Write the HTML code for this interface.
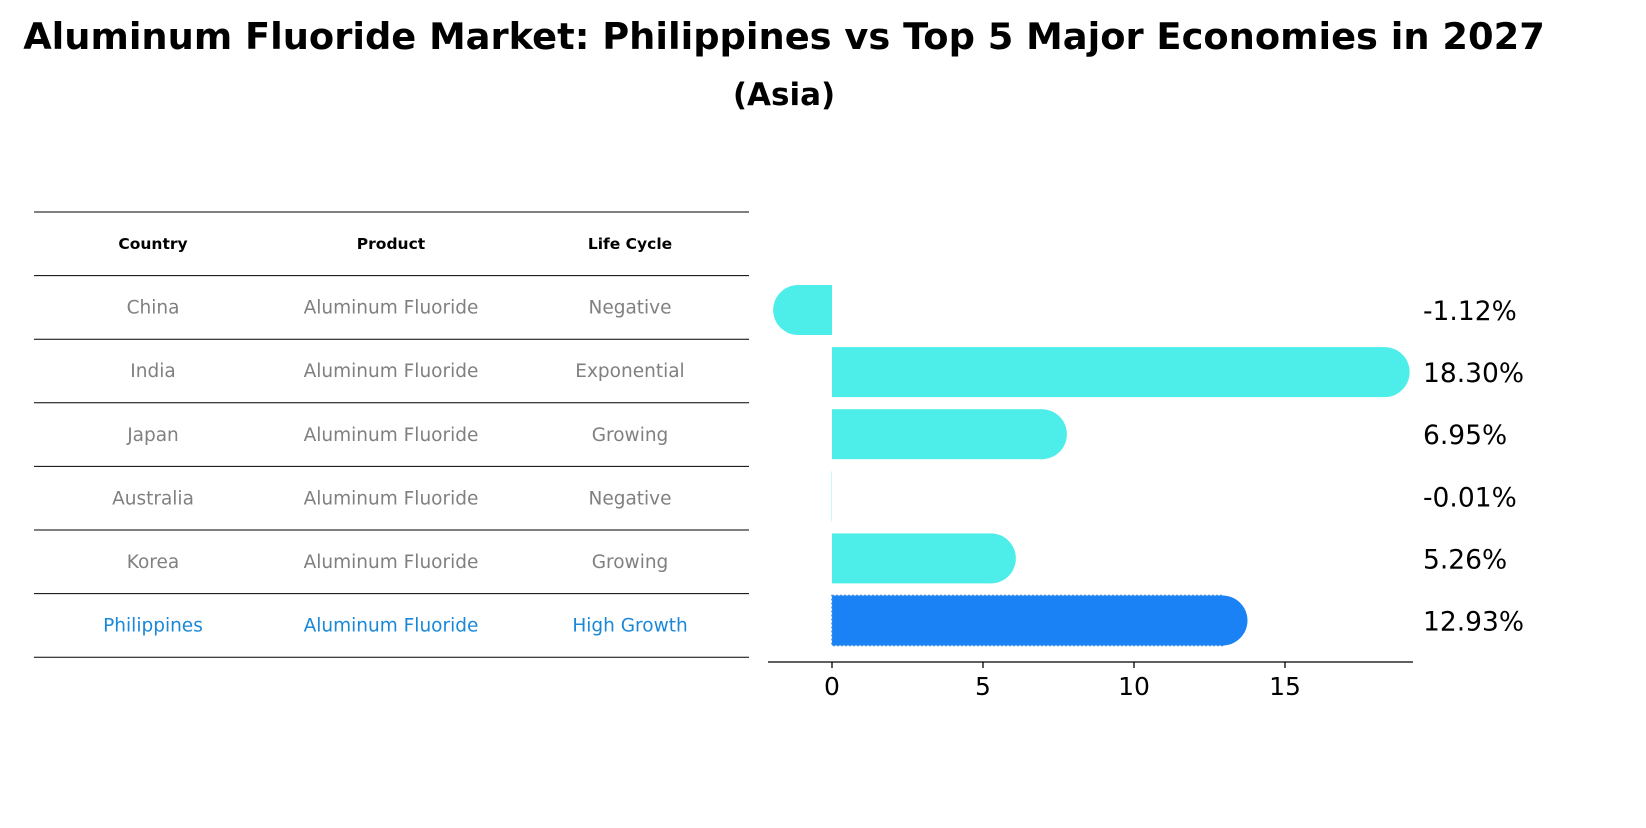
<!DOCTYPE html>
<html><head><meta charset="utf-8"><style>
body{margin:0;background:#fff;font-family:"Liberation Sans","DejaVu Sans",sans-serif}
</style></head><body>
<svg width="1646" height="823" xmlns="http://www.w3.org/2000/svg" id="chart">
<text x="784" y="49" text-anchor="middle" font-family="DejaVu Sans, sans-serif" font-weight="bold" font-size="36.8">Aluminum Fluoride Market: Philippines vs Top 5 Major Economies in 2027</text>
<text x="784" y="105" text-anchor="middle" font-family="DejaVu Sans, sans-serif" font-weight="bold" font-size="31">(Asia)</text>
<g id="table"></g>
<g id="bars"></g>
</svg>
<script>
const countries=["China","India","Japan","Australia","Korea","Philippines"];
const products=["Aluminum Fluoride","Aluminum Fluoride","Aluminum Fluoride","Aluminum Fluoride","Aluminum Fluoride","Aluminum Fluoride"];
const lifeCycles=["Negative","Exponential","Growing","Negative","Growing","High Growth"];
const growth=[-1.12,18.30,6.95,-0.01,5.26,12.93];
const valueLabels=["-1.12%","18.30%","6.95%","-0.01%","5.26%","12.93%"];
const xTicks=[0,5,10,15];

const NS="http://www.w3.org/2000/svg";
function mk(tag,attrs,parent){const e=document.createElementNS(NS,tag);for(const k in attrs)e.setAttribute(k,attrs[k]);parent.appendChild(e);return e;}
const tbl=document.getElementById('table');
const rowY=i=>212+63.6*i;
for(let i=0;i<=7;i++){
  const l=mk('line',{x1:34,x2:749,y1:rowY(i),y2:rowY(i),stroke:'#000','stroke-width':1},tbl);
  
  
}
const colX=[153,391,630];
["Country","Product","Life Cycle"].forEach((h,j)=>{
  const t=mk('text',{x:colX[j],y:rowY(0)+37,'text-anchor':'middle','font-size':15.5,'font-weight':'bold','font-family':'DejaVu Sans, sans-serif'},tbl);
  t.textContent=h;
  
  
});
countries.forEach((c,i)=>{
  const col=c==="Philippines"?"#1a88d8":"#808080";
  [c,products[i],lifeCycles[i]].forEach((v,j)=>{
    const t=mk('text',{x:colX[j],y:rowY(i+1)+38,'text-anchor':'middle','font-size':18.5,fill:col,'font-family':'DejaVu Sans, sans-serif'},tbl);
    t.textContent=v;
    
    
  });
});
const bars=document.getElementById('bars');
const x=v=>832+v*30.2;
const y=i=>310+62.1*i;
const h=50;
growth.forEach((v,i)=>{
  const ph=countries[i]==="Philippines";
  const fill=ph?"#1a82f5":"#4deeea";
  const x0=Math.min(x(0),x(v)),w=Math.abs(x(v)-x(0));
  const g=mk('g',{},bars);
  
  
  if(ph){
    mk('rect',{x:x0,y:y(i)-h/2,width:w,height:h,fill:fill,stroke:'#3a8fe0','stroke-width':1.5,'stroke-dasharray':'2 2'},g);
  } else {
    mk('rect',{x:x0,y:y(i)-h/2,width:w,height:h,fill:fill},g);
  }
  if(Math.abs(v)>0.05) mk('circle',{cx:x(v),cy:y(i),r:h/2,fill:fill},g);
  const t=mk('text',{x:1423,y:y(i)+10,'font-size':26.5,'font-family':'DejaVu Sans, sans-serif'},bars);
  t.textContent=valueLabels[i];
  
  
});
const ax=mk('line',{x1:768,x2:1413,y1:662,y2:662,stroke:'#000','stroke-width':1.3},bars);


xTicks.forEach(v=>{
  const tk=mk('line',{x1:x(v),x2:x(v),y1:662,y2:668,stroke:'#000','stroke-width':1.3},bars);
  
  
  const t=mk('text',{x:x(v),y:695,'text-anchor':'middle','font-size':25,'font-family':'DejaVu Sans, sans-serif'},bars);
  t.textContent=v;
  
  
});
</script>
</body></html>
